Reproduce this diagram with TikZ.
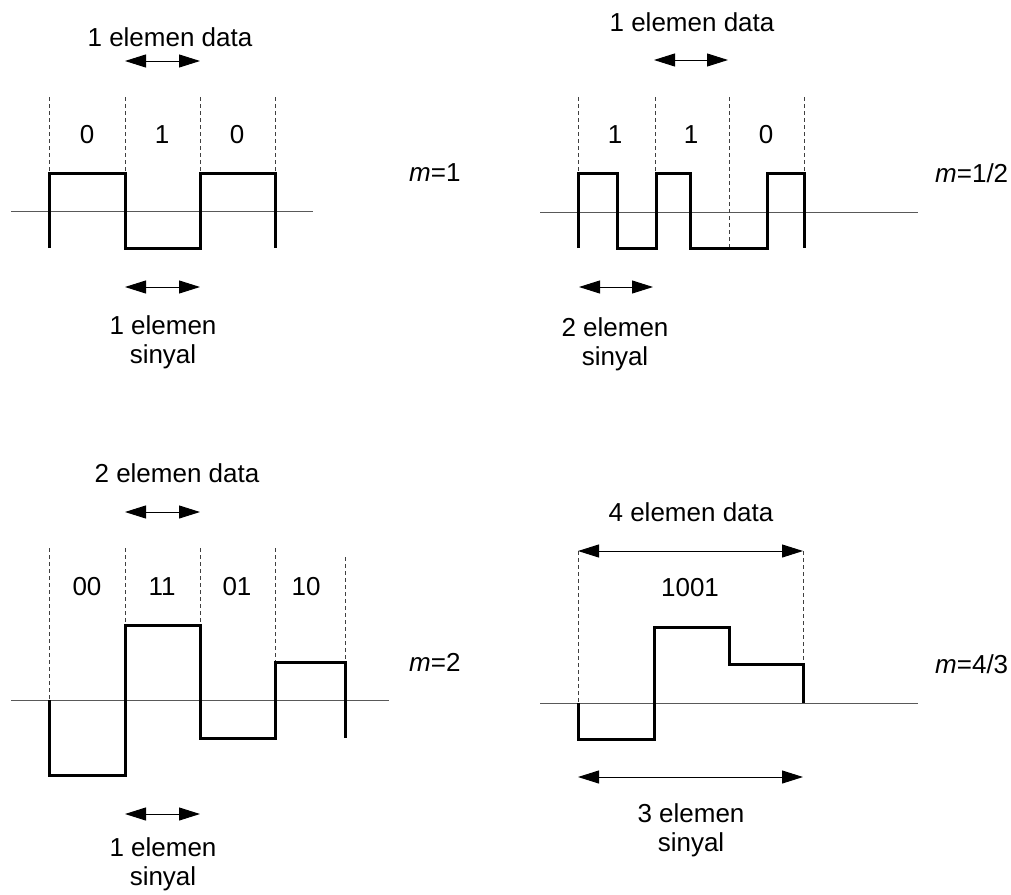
\documentclass[tikz,border=0pt]{standalone}
\usepackage{fontspec}
\setmainfont{Liberation Sans}
\usetikzlibrary{arrows.meta}
\begin{document}
\begin{tikzpicture}[x=1pt,y=-1pt,
  lbl/.style={font=\fontsize{26}{29}\selectfont,inner sep=0pt,align=center},
  wave/.style={line width=3pt,line join=miter},
  axisline/.style={line width=1pt,black!65},
  guide/.style={line width=0.8pt,dash pattern=on 4pt off 3pt,black!75},
  dimarrow/.style={line width=1pt,{Triangle[length=21pt,width=13pt]}-{Triangle[length=21pt,width=13pt]}}]
\useasboundingbox (0,0) rectangle (1011,894);
% ---------- Panel 1: m=1 ----------
\draw[axisline] (11,211) -- (313,211);
\foreach \x in {49,125,200,275} \draw[guide] (\x,97) -- (\x,173);
\draw[wave] (49,248) -- (49,173) -- (125,173) -- (125,248) -- (200,248) -- (200,173) -- (275,173) -- (275,248);
\node[lbl] (p1b1) at (87,135) {0};
\node[lbl] (p1b2) at (162,135) {1};
\node[lbl] (p1b3) at (237,135) {0};
\node[lbl] (p1top) at (170,37) {1 elemen data};
\coordinate (p1ta) at (125,61); \coordinate (p1tb) at (200,61);
\draw[dimarrow] (p1ta) -- (p1tb);
\coordinate (p1ba) at (125,287); \coordinate (p1bb) at (200,287);
\draw[dimarrow] (p1ba) -- (p1bb);
\node[lbl] (p1bot) at (163,342) {1 elemen\\sinyal};
\node[lbl,anchor=west] (p1m) at (409,173) {\textit{m}=1};
% ---------- Panel 2: m=1/2 ----------
\draw[axisline] (540,212) -- (918,212);
\foreach \x in {578,655,804} \draw[guide] (\x,97) -- (\x,173);
\draw[guide] (729,97) -- (729,248);
\draw[wave] (578,248) -- (578,173) -- (617,173) -- (617,248) -- (656,248) -- (656,173) -- (690,173) -- (690,248) -- (767,248) -- (767,173) -- (804,173) -- (804,248);
\node[lbl] (p2b1) at (615,135) {1};
\node[lbl] (p2b2) at (691,135) {1};
\node[lbl] (p2b3) at (766,135) {0};
\node[lbl] (p2top) at (692,22) {1 elemen data};
\coordinate (p2ta) at (654,60); \coordinate (p2tb) at (728,60);
\draw[dimarrow] (p2ta) -- (p2tb);
\coordinate (p2ba) at (579,287); \coordinate (p2bb) at (653,287);
\draw[dimarrow] (p2ba) -- (p2bb);
\node[lbl] (p2bot) at (615,344) {2 elemen\\sinyal};
\node[lbl,anchor=west] (p2m) at (935,173) {\textit{m}=1/2};
% ---------- Panel 3: m=2 ----------
\draw[axisline] (11,700) -- (389,700);
\draw[guide] (49,548) -- (49,700);
\draw[guide] (125,548) -- (125,625);
\draw[guide] (200,548) -- (200,625);
\draw[guide] (275,548) -- (275,662);
\draw[guide] (345,557) -- (345,662);
\draw[wave] (49,700) -- (49,775) -- (125,775) -- (125,625) -- (200,625) -- (200,738) -- (275,738) -- (275,662) -- (345,662) -- (345,738);
\node[lbl] (p3b1) at (87,587) {00};
\node[lbl] (p3b2) at (162,587) {11};
\node[lbl] (p3b3) at (237,587) {01};
\node[lbl] (p3b4) at (306,587) {10};
\node[lbl] (p3top) at (177,473) {2 elemen data};
\coordinate (p3ta) at (125,512); \coordinate (p3tb) at (200,512);
\draw[dimarrow] (p3ta) -- (p3tb);
\coordinate (p3ba) at (125,814); \coordinate (p3bb) at (200,814);
\draw[dimarrow] (p3ba) -- (p3bb);
\node[lbl] (p3bot) at (163,864) {1 elemen\\sinyal};
\node[lbl,anchor=west] (p3m) at (409,662) {\textit{m}=2};
% ---------- Panel 4: m=4/3 ----------
\draw[axisline] (540,703) -- (918,703);
\draw[guide] (578,551) -- (578,703);
\draw[guide] (803,551) -- (803,664);
\draw[wave] (578,703) -- (578,739) -- (654,739) -- (654,627) -- (729,627) -- (729,664) -- (803,664) -- (803,703);
\node[lbl] (p4b) at (690,588) {1001};
\node[lbl] (p4top) at (691,512) {4 elemen data};
\coordinate (p4ta) at (578,551); \coordinate (p4tb) at (803,551);
\draw[dimarrow] (p4ta) -- (p4tb);
\coordinate (p4ba) at (578,777); \coordinate (p4bb) at (803,777);
\draw[dimarrow] (p4ba) -- (p4bb);
\node[lbl] (p4bot) at (691,830) {3 elemen\\sinyal};
\node[lbl,anchor=west] (p4m) at (935,664) {\textit{m}=4/3};
\end{tikzpicture}
\end{document}
